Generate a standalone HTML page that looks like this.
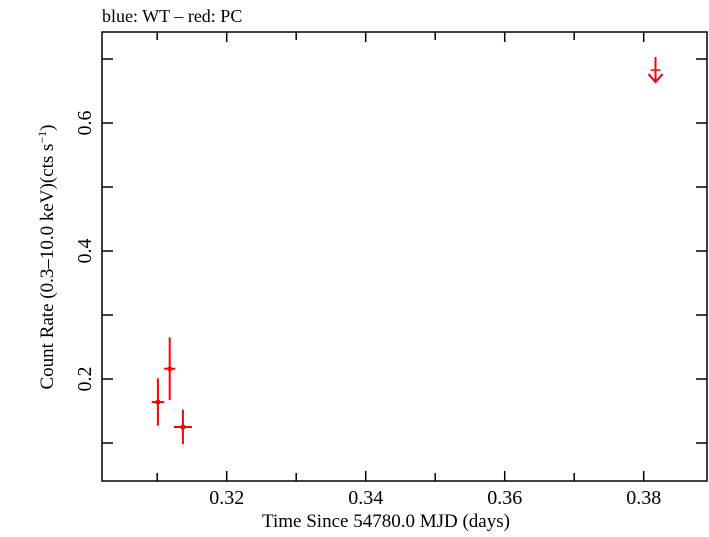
<!DOCTYPE html>
<html><head><meta charset="utf-8"><style>
body{margin:0;background:#fff}
svg text{font-family:"Liberation Serif",serif;fill:#000}
</style></head><body>
<svg width="709" height="532" viewBox="0 0 709 532" id="chart">
<text x="102" y="22" font-size="18">blue: WT – red: PC</text>
<rect x="102" y="32" width="605" height="449" fill="none" stroke="#000" stroke-width="1.5"/>
<g id="axes"></g>
<g id="marks"></g>
<text x="386" y="527" font-size="19" text-anchor="middle">Time Since 54780.0 MJD (days)</text>
<text transform="translate(53,257) rotate(-90)" font-size="19" text-anchor="middle">Count Rate (0.3–10.0 keV)(cts s<tspan dy="-7" font-size="12">−1</tspan><tspan dy="7">)</tspan></text>
</svg>
<script>
const xTicks=[0.32,0.34,0.36,0.38];
const xMinor=[0.31,0.33,0.35,0.37];
const yTicks=[0.2,0.4,0.6];
const yMinor=[0.1,0.3,0.5,0.7];
const times=[0.3101,0.3118,0.3137];
const timeErr=[0.0009,0.0008,0.0013];
const rates=[0.164,0.216,0.125];
const rateErr=[0.037,0.049,0.027];
const ulTime=[0.3817];
const ulRate=[0.703];
const X0=102,X1=707,Y0=481,Y1=32;
function xs(v){return 226.7+(v-0.32)*6950;}
function ys(v){return 379-(v-0.2)*640;}
const NS="http://www.w3.org/2000/svg";
const axes=document.getElementById('axes'),marks=document.getElementById('marks');
function ln(p,x1,y1,x2,y2,c,w,name){const e=document.createElementNS(NS,'line');
e.setAttribute('x1',x1);e.setAttribute('y1',y1);e.setAttribute('x2',x2);e.setAttribute('y2',y2);
e.setAttribute('stroke',c);e.setAttribute('stroke-width',w);


p.appendChild(e);return e;}
function tx(p,x,y,s,rot,name){const e=document.createElementNS(NS,'text');
e.setAttribute('font-size','20');e.setAttribute('text-anchor','middle');
if(rot)e.setAttribute('transform',`translate(${x},${y}) rotate(-90)`);else{e.setAttribute('x',x);e.setAttribute('y',y);}
e.textContent=s;


p.appendChild(e);}
xTicks.forEach(v=>{const x=xs(v);ln(axes,x,Y0,x,Y0-10,'#000',1.5,'x-tick');ln(axes,x,Y1,x,Y1+10,'#000',1.5,'x-tick-top');tx(axes,x,Y0+23,v.toFixed(2),false,'x-tick-label');});
xMinor.forEach(v=>{const x=xs(v);if(x<X0)return;ln(axes,x,Y0,x,Y0-8,'#000',1.5,'x-minor-tick');ln(axes,x,Y1,x,Y1+8,'#000',1.5,'x-minor-tick-top');});
yTicks.forEach(v=>{const y=ys(v);ln(axes,X0,y,X0+11,y,'#000',1.5,'y-tick');ln(axes,X1,y,X1-11,y,'#000',1.5,'y-tick-right');tx(axes,91,y,v.toFixed(1),true,'y-tick-label');});
yMinor.forEach(v=>{const y=ys(v);ln(axes,X0,y,X0+11,y,'#000',1.5,'y-minor-tick');ln(axes,X1,y,X1-11,y,'#000',1.5,'y-minor-tick-right');});
times.forEach((t,i)=>{const x=xs(t),y=ys(rates[i]);
ln(marks,x,ys(rates[i]-rateErr[i]),x,ys(rates[i]+rateErr[i]),'#f00',2,'data-point-y-error');
ln(marks,xs(t-timeErr[i]),y,xs(t+timeErr[i]),y,'#f00',2,'data-point-x-error');
const c=document.createElementNS(NS,'rect');c.setAttribute('x',x-2);c.setAttribute('y',y-2);c.setAttribute('width',4);c.setAttribute('height',4);c.setAttribute('fill','#f00');


marks.appendChild(c);});
ulTime.forEach((t,i)=>{const x=xs(t),y=ys(ulRate[i]),yb=y+25;
ln(marks,x,y,x,yb,'#f00',2,'upper-limit-arrow');
ln(marks,x-5,y+13,x+5,y+13,'#f00',1.5,'upper-limit-bar');
const p=document.createElementNS(NS,'polyline');p.setAttribute('points',`${x-7},${yb-8} ${x},${yb} ${x+7},${yb-8}`);
p.setAttribute('fill','none');p.setAttribute('stroke','#f00');p.setAttribute('stroke-width','2');


marks.appendChild(p);});
</script>
</body></html>
